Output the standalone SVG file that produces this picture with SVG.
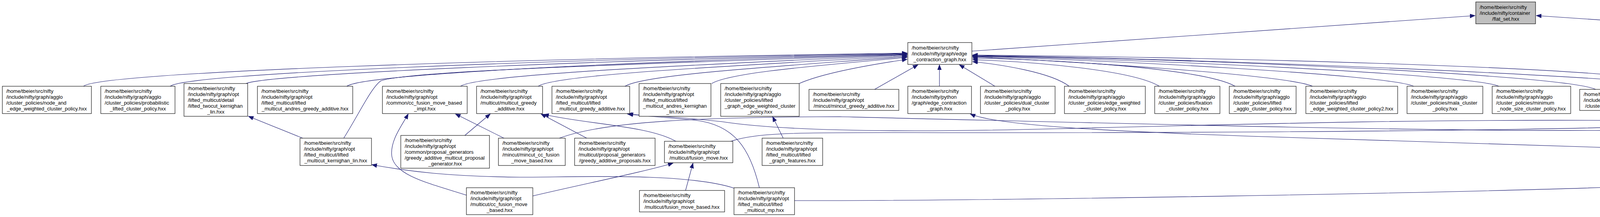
<svg xmlns="http://www.w3.org/2000/svg" width="6395" height="556" viewBox="0 0 6395 556">
<style>
.n rect{fill:#fff;stroke:#000;stroke-width:1.1}
.n.r rect{stroke:#ff0000}
.n.g rect{fill:#bfbfbf}
text{font-family:"Liberation Sans",Arial,Helvetica,sans-serif;font-size:13px;fill:#000}
.c{text-anchor:middle}
#edges path{fill:none;stroke:#191970;stroke-width:1.1;marker-end:url(#a)}
</style>
<defs>
<marker id="a" markerUnits="userSpaceOnUse" markerWidth="14" markerHeight="12" refX="13" refY="5.5" orient="auto">
<path d="M0,0.5 L13,5.5 L0,10.5 z" fill="#191970" stroke="#191970" stroke-width="1"/>
</marker>
</defs>
<rect x="0" y="0" width="6395" height="556" fill="#fff"/>
<g id="edges">
<path d="M2488,131 L3776,40"/>
<path d="M5207,126 L3933,40"/>
<path d="M214,221 C250,185 1300,150 2322,136"/>
<path d="M436,221 C470,188 1400,152 2322,137"/>
<path d="M630,214 C680,190 1500,155 2322,138"/>
<path d="M888,221 C930,190 1600,158 2322,139"/>
<path d="M880,354 C920,290 950,225 975,207 C1050,180 1700,162 2322,140"/>
<path d="M1179,221 C1220,190 1800,165 2322,141"/>
<path d="M1378,221 C1420,190 1900,168 2322,143"/>
<path d="M1600,221 C1650,190 2000,170 2322,145"/>
<path d="M1822,214 C1870,185 2100,168 2322,147"/>
<path d="M2046,214 C2100,190 2200,170 2322,152"/>
<path d="M2239,229 L2350,166"/>
<path d="M2405,221 L2405,166"/>
<path d="M2547,221 L2456,166"/>
<path d="M2737,221 C2690,185 2560,165 2490,158"/>
<path d="M2968,221 C2900,180 2650,158 2490,153"/>
<path d="M3162,221 C3080,175 2700,152 2490,149"/>
<path d="M3360,221 C3290,190 2700,155 2490,146"/>
<path d="M3619,221 C3550,190 2800,152 2490,145"/>
<path d="M3837,221 C3770,190 2900,150 2490,144"/>
<path d="M4085,229 C4000,190 3000,148 2490,143"/>
<path d="M4354,229 C4300,200 3100,150 2490,142"/>
<path d="M4424,481 C4380,420 4300,240 4260,212 C4150,170 3000,145 2490,141"/>
<path d="M4458,229 C4540,170 5000,150 5205,140"/>
<path d="M4679,221 C4760,175 5050,152 5205,143"/>
<path d="M4900,221 C4980,180 5100,160 5205,147"/>
<path d="M1871,362 C1950,335 2100,340 2500,340 C3500,340 4450,330 4690,300 C4760,260 4760,170 5205,145"/>
<path d="M1432,354 C1550,310 1800,300 2150,299 C3000,320 3800,340 4200,333 C4350,328 4450,310 4512,292"/>
<path d="M4621,354 C4450,315 4300,309 4200,309 C3700,305 3300,315 2700,330 C2300,340 2000,335 1850,312 C1750,300 1650,296 1606,292"/>
<path d="M4396,387 C4200,380 3800,370 3200,349 C2800,335 2550,320 2484,292"/>
<path d="M2034,514 C2500,515 3800,495 4300,473 C4700,450 4790,420 4813,380 C4840,330 4880,310 4960,310 C5100,315 5180,300 5222,292"/>
<path d="M1944,481 C1920,380 1880,320 1780,308 C1700,300 1640,297 1608,292"/>
<path d="M1879,482 C1750,440 1450,455 1331,454 C1150,452 1050,440 952,422"/>
<path d="M1194,500 C1100,470 1010,450 1003,400 C998,360 1030,320 1045,292"/>
<path d="M1290,354 L1166,292"/>
<path d="M1190,347 L1255,292"/>
<path d="M1502,354 L1385,292"/>
<path d="M1730,362 C1660,322 1500,318 1392,293"/>
<path d="M1364,502 C1500,470 1650,440 1723,418"/>
<path d="M1755,488 L1774,418"/>
<path d="M2005,354 L1978,299"/>
<path d="M775,354 L636,298"/>
<path d="M5100,229 L5233,166"/>
<path d="M5019,354 C5100,320 5170,300 5187,270 C5210,230 5230,190 5245,166"/>
<path d="M4775,354 C4880,300 4990,340 5090,319 C5180,290 5230,200 5259,166"/>
<path d="M4775,354 C4850,310 4950,305 5050,305 C5150,305 5195,300 5220,292"/>
<path d="M5187,354 L5257,292"/>
<path d="M5350,362 L5323,292"/>
<path d="M5530,362 L5386,292"/>
<path d="M5303,221 L5303,166"/>
<path d="M5379,362 C5405,300 5405,220 5358,166"/>
<path d="M5561,362 C5500,250 5440,210 5379,166"/>
<path d="M5537,229 L5388,166"/>
<path d="M5818,229 C5700,190 5500,170 5404,150"/>
<path d="M5958,376 C5850,350 5760,310 5745,250 C5720,180 5550,160 5404,147"/>
<path d="M6049,221 C5950,170 5700,160 5404,143"/>
<path d="M6235,221 C6100,170 5700,148 5404,140"/>
<path d="M6053,362 L6091,292"/>
<path d="M6252,362 L6284,292"/>
<path d="M6284,488 C6330,440 6370,380 6333,292"/>
<path d="M6168,488 L6077,418"/>
<path d="M4525,481 L4623,425"/>
<path d="M4571,355 L4744,292"/>
</g>

<g id="FS" class="n g"><rect x="3778" y="5" width="153" height="56"/><text x="3788" y="22.5">/home/tbeier/src/nifty</text><text x="3788" y="37.5">/include/nifty/container</text><text class="c" x="3854.5" y="52.5">/flat_set.hxx</text></g>
<g id="E0" class="n"><rect x="2324" y="109" width="164" height="56"/><text x="2334" y="126.5">/home/tbeier/src/nifty</text><text x="2334" y="141.5">/include/nifty/graph/edge</text><text class="c" x="2406" y="156.5">_contraction_graph.hxx</text></g>
<g id="U" class="n"><rect x="5207" y="109" width="195" height="56"/><text x="5217" y="126.5">/home/tbeier/src/nifty</text><text x="5217" y="141.5">/include/nifty/graph/undirected</text><text class="c" x="5304.5" y="156.5">_list_graph.hxx</text></g>

<g id="A1" class="n"><rect x="6" y="221" width="228" height="70"/><text x="16" y="238">/home/tbeier/src/nifty</text><text x="16" y="253">/include/nifty/graph/agglo</text><text x="16" y="268">/cluster_policies/node_and</text><text class="c" x="120" y="283">_edge_weighted_cluster_policy.hxx</text></g>
<g id="A2" class="n"><rect x="258" y="221" width="190" height="70"/><text x="268" y="238">/home/tbeier/src/nifty</text><text x="268" y="253">/include/nifty/graph/agglo</text><text x="268" y="268">/cluster_policies/probabilistic</text><text class="c" x="353" y="283">_lifted_cluster_policy.hxx</text></g>
<g id="A3" class="n"><rect x="471" y="214" width="163" height="84"/><text x="481" y="230.5">/home/tbeier/src/nifty</text><text x="481" y="245.5">/include/nifty/graph/opt</text><text x="481" y="260.5">/lifted_multicut/detail</text><text x="481" y="275.5">/lifted_twocut_kernighan</text><text class="c" x="552.5" y="290.5">_lin.hxx</text></g>
<g id="A4" class="n"><rect x="659" y="221" width="244" height="70"/><text x="669" y="238">/home/tbeier/src/nifty</text><text x="669" y="253">/include/nifty/graph/opt</text><text x="669" y="268">/lifted_multicut/lifted</text><text class="c" x="781" y="283">_multicut_andres_greedy_additive.hxx</text></g>
<g id="A5" class="n"><rect x="979" y="221" width="217" height="70"/><text x="989" y="238">/home/tbeier/src/nifty</text><text x="989" y="253">/include/nifty/graph/opt</text><text x="989" y="268">/common/cc_fusion_move_based</text><text class="c" x="1087.5" y="283">_impl.hxx</text></g>
<g id="B1" class="n"><rect x="1220" y="221" width="169" height="70"/><text x="1230" y="238">/home/tbeier/src/nifty</text><text x="1230" y="253">/include/nifty/graph/opt</text><text x="1230" y="268">/multicut/multicut_greedy</text><text class="c" x="1304.5" y="283">_additive.hxx</text></g>
<g id="B2" class="n"><rect x="1413" y="221" width="199" height="70"/><text x="1423" y="238">/home/tbeier/src/nifty</text><text x="1423" y="253">/include/nifty/graph/opt</text><text x="1423" y="268">/lifted_multicut/lifted</text><text class="c" x="1512.5" y="283">_multicut_greedy_additive.hxx</text></g>
<g id="B3" class="n"><rect x="1636" y="214" width="184" height="84"/><text x="1646" y="230.5">/home/tbeier/src/nifty</text><text x="1646" y="245.5">/include/nifty/graph/opt</text><text x="1646" y="260.5">/lifted_multicut/lifted</text><text x="1646" y="275.5">_multicut_andres_kernighan</text><text class="c" x="1728" y="290.5">_lin.hxx</text></g>
<g id="B4" class="n"><rect x="1845" y="214" width="201" height="84"/><text x="1855" y="230.5">/home/tbeier/src/nifty</text><text x="1855" y="245.5">/include/nifty/graph/agglo</text><text x="1855" y="260.5">/cluster_policies/lifted</text><text x="1855" y="275.5">_graph_edge_weighted_cluster</text><text class="c" x="1945.5" y="290.5">_policy.hxx</text></g>
<g id="B5" class="n"><rect x="2071" y="229" width="230" height="54"/><text x="2081" y="245.5">/home/tbeier/src/nifty</text><text x="2081" y="260.5">/include/nifty/graph/opt</text><text class="c" x="2186" y="275.5">/mincut/mincut_greedy_additive.hxx</text></g>
<g id="E1" class="n"><rect x="2324" y="221" width="163" height="70"/><text x="2334" y="238">/home/tbeier/src/nifty</text><text x="2334" y="253">/include/nifty/python</text><text x="2334" y="268">/graph/edge_contraction</text><text class="c" x="2405.5" y="283">_graph.hxx</text></g>
<g id="E2" class="n"><rect x="2510" y="221" width="191" height="70"/><text x="2520" y="238">/home/tbeier/src/nifty</text><text x="2520" y="253">/include/nifty/graph/agglo</text><text x="2520" y="268">/cluster_policies/dual_cluster</text><text class="c" x="2605.5" y="283">_policy.hxx</text></g>
<g id="E3" class="n"><rect x="2725" y="221" width="207" height="70"/><text x="2735" y="238">/home/tbeier/src/nifty</text><text x="2735" y="253">/include/nifty/graph/agglo</text><text x="2735" y="268">/cluster_policies/edge_weighted</text><text class="c" x="2828.5" y="283">_cluster_policy.hxx</text></g>
<g id="E4" class="n"><rect x="2956" y="221" width="167" height="70"/><text x="2966" y="238">/home/tbeier/src/nifty</text><text x="2966" y="253">/include/nifty/graph/agglo</text><text x="2966" y="268">/cluster_policies/fixation</text><text class="c" x="3039.5" y="283">_cluster_policy.hxx</text></g>
<g id="E5" class="n"><rect x="3147" y="221" width="171" height="70"/><text x="3157" y="238">/home/tbeier/src/nifty</text><text x="3157" y="253">/include/nifty/graph/agglo</text><text x="3157" y="268">/cluster_policies/lifted</text><text class="c" x="3232.5" y="283">_agglo_cluster_policy.hxx</text></g>
<g id="F1" class="n"><rect x="3343" y="221" width="235" height="70"/><text x="3353" y="238">/home/tbeier/src/nifty</text><text x="3353" y="253">/include/nifty/graph/agglo</text><text x="3353" y="268">/cluster_policies/lifted</text><text class="c" x="3460.5" y="283">_edge_weighted_cluster_policy2.hxx</text></g>
<g id="F2" class="n"><rect x="3602" y="221" width="194" height="70"/><text x="3612" y="238">/home/tbeier/src/nifty</text><text x="3612" y="253">/include/nifty/graph/agglo</text><text x="3612" y="268">/cluster_policies/mala_cluster</text><text class="c" x="3699" y="283">_policy.hxx</text></g>
<g id="F3" class="n"><rect x="3820" y="221" width="201" height="70"/><text x="3830" y="238">/home/tbeier/src/nifty</text><text x="3830" y="253">/include/nifty/graph/agglo</text><text x="3830" y="268">/cluster_policies/minimum</text><text class="c" x="3920.5" y="283">_node_size_cluster_policy.hxx</text></g>
<g id="F4" class="n"><rect x="4044" y="229" width="211" height="54"/><text x="4054" y="245.5">/home/tbeier/src/nifty</text><text x="4054" y="260.5">/include/nifty/graph/agglo</text><text class="c" x="4149.5" y="275.5">/cluster_policies/new_policy.hxx</text></g>
<g id="G1" class="n"><rect x="4330" y="229" width="154" height="54"/><text x="4340" y="245.5">/home/tbeier/src/nifty</text><text x="4340" y="260.5">/include/nifty/graph/opt</text><text class="c" x="4407" y="275.5">/multicut/cgc.hxx</text></g>
<g id="G2" class="n"><rect x="4509" y="221" width="170" height="70"/><text x="4519" y="238">/home/tbeier/src/nifty</text><text x="4519" y="253">/include/nifty/graph/opt</text><text x="4519" y="268">/mincut/mincut_cc_fusion</text><text class="c" x="4594" y="283">_move.hxx</text></g>
<g id="G3" class="n r"><rect x="4753" y="221" width="147" height="70"/><text x="4763" y="238">/home/tbeier/src/nifty</text><text x="4763" y="253">/include/nifty/python</text><text x="4763" y="268">/graph/undirected_list</text><text class="c" x="4826.5" y="283">_graph.hxx</text></g>
<g id="G4" class="n"><rect x="4925" y="229" width="225" height="54"/><text x="4935" y="245.5">/home/tbeier/src/nifty</text><text x="4935" y="260.5">/include/nifty/graph/opt</text><text class="c" x="5037.5" y="275.5">/multicut/multicut_decomposer.hxx</text></g>
<g id="G5" class="n"><rect x="5226" y="221" width="157" height="70"/><text x="5236" y="238">/home/tbeier/src/nifty</text><text x="5236" y="253">/include/nifty/graph/opt</text><text x="5236" y="268">/lifted_multicut/lifted</text><text class="c" x="5304.5" y="283">_multicut_objective.hxx</text></g>
<g id="J1" class="n r"><rect x="5510" y="229" width="196" height="54"/><text x="5520" y="245.5">/home/tbeier/src/nifty</text><text x="5520" y="260.5">/include/nifty/graph/undirected</text><text class="c" x="5608" y="275.5">_long_range_grid_graph.hxx</text></g>
<g id="J2" class="n"><rect x="5783" y="229" width="230" height="54"/><text x="5793" y="245.5">/home/tbeier/src/nifty</text><text x="5793" y="260.5">/include/nifty/graph/opt</text><text class="c" x="5898" y="275.5">/common/cc_fusion_move_impl.hxx</text></g>
<g id="J3" class="n"><rect x="6037" y="221" width="163" height="70"/><text x="6047" y="238">/home/tbeier/src/nifty</text><text x="6047" y="253">/include/nifty/graph/rag</text><text x="6047" y="268">/detail_rag/compute_grid</text><text class="c" x="6118.5" y="283">_rag.hxx</text></g>
<g id="J4" class="n"><rect x="6225" y="221" width="164" height="70"/><text x="6235" y="238">/home/tbeier/src/nifty</text><text x="6235" y="253">/include/nifty/graph/rag</text><text x="6235" y="268">/detail_rag/compute_grid</text><text class="c" x="6307" y="283">_rag_hdf5.hxx</text></g>

<g id="A6" class="n"><rect x="768" y="354" width="183" height="70"/><text x="778" y="371">/home/tbeier/src/nifty</text><text x="778" y="386">/include/nifty/graph/opt</text><text x="778" y="401">/lifted_multicut/lifted</text><text class="c" x="859.5" y="416">_multicut_kernighan_lin.hxx</text></g>
<g id="A7" class="n"><rect x="1026" y="347" width="227" height="84"/><text x="1036" y="363.5">/home/tbeier/src/nifty</text><text x="1036" y="378.5">/include/nifty/graph/opt</text><text x="1036" y="393.5">/common/proposal_generators</text><text x="1036" y="408.5">/greedy_additive_multicut_proposal</text><text class="c" x="1139.5" y="423.5">_generator.hxx</text></g>
<g id="C1" class="n"><rect x="1276" y="354" width="171" height="70"/><text x="1286" y="371">/home/tbeier/src/nifty</text><text x="1286" y="386">/include/nifty/graph/opt</text><text x="1286" y="401">/mincut/mincut_cc_fusion</text><text class="c" x="1361.5" y="416">_move_based.hxx</text></g>
<g id="C2" class="n"><rect x="1471" y="354" width="206" height="70"/><text x="1481" y="371">/home/tbeier/src/nifty</text><text x="1481" y="386">/include/nifty/graph/opt</text><text x="1481" y="401">/multicut/proposal_generators</text><text class="c" x="1574" y="416">/greedy_additive_proposals.hxx</text></g>
<g id="C3" class="n"><rect x="1701" y="362" width="175" height="55"/><text x="1711" y="379">/home/tbeier/src/nifty</text><text x="1711" y="394">/include/nifty/graph/opt</text><text class="c" x="1788.5" y="409">/multicut/fusion_move.hxx</text></g>
<g id="C4" class="n"><rect x="1951" y="354" width="155" height="70"/><text x="1961" y="371">/home/tbeier/src/nifty</text><text x="1961" y="386">/include/nifty/graph/opt</text><text x="1961" y="401">/lifted_multicut/lifted</text><text class="c" x="2028.5" y="416">_graph_features.hxx</text></g>
<g id="H1" class="n"><rect x="4396" y="354" width="174" height="70"/><text x="4406" y="371">/home/tbeier/src/nifty</text><text x="4406" y="386">/include/nifty/python</text><text x="4406" y="401">/graph/opt/common/export</text><text class="c" x="4483" y="416">_solver_factory.hxx</text></g>
<g id="H2" class="n"><rect x="4621" y="354" width="154" height="70"/><text x="4631" y="371">/home/tbeier/src/nifty</text><text x="4631" y="386">/include/nifty/graph/opt</text><text x="4631" y="401">/lifted_multicut/fusion</text><text class="c" x="4698" y="416">_move.hxx</text></g>
<g id="H3" class="n"><rect x="4869" y="354" width="156" height="70"/><text x="4879" y="371">/home/tbeier/src/nifty</text><text x="4879" y="386">/include/nifty/graph/opt</text><text x="4879" y="401">/lifted_multicut/chained</text><text class="c" x="4947" y="416">_solvers.hxx</text></g>
<g id="H4" class="n r"><rect x="5050" y="354" width="190" height="70"/><text x="5060" y="371">/home/tbeier/src/nifty</text><text x="5060" y="386">/include/nifty/python</text><text x="5060" y="401">/graph/opt/lifted_multicut</text><text class="c" x="5145" y="416">/lifted_multicut_objective.hxx</text></g>
<g id="H5" class="n"><rect x="5265" y="362" width="196" height="55"/><text x="5275" y="379">/home/tbeier/src/nifty</text><text x="5275" y="394">/include/nifty/graph/opt</text><text class="c" x="5363" y="409">/lifted_multicut/pixel_wise.hxx</text></g>
<g id="K1" class="n"><rect x="5486" y="362" width="210" height="55"/><text x="5496" y="379">/home/tbeier/src/nifty</text><text x="5496" y="394">/include/nifty/graph/opt</text><text class="c" x="5591" y="409">/lifted_multicut/pixel_wise_q.hxx</text></g>
<g id="K2" class="n r"><rect x="5958" y="362" width="154" height="55"/><text x="5968" y="379">/home/tbeier/src/nifty</text><text x="5968" y="394">/include/nifty/graph/rag</text><text class="c" x="6035" y="409">/grid_rag.hxx</text></g>
<g id="K3" class="n"><rect x="6136" y="362" width="203" height="55"/><text x="6146" y="379">/home/tbeier/src/nifty</text><text x="6146" y="394">/include/nifty/graph/rag</text><text class="c" x="6237.5" y="409">/grid_rag_stacked_2d_hdf5.hxx</text></g>

<g id="D1" class="n"><rect x="1194" y="481" width="170" height="69"/><text x="1204" y="497.5">/home/tbeier/src/nifty</text><text x="1204" y="512.5">/include/nifty/graph/opt</text><text x="1204" y="527.5">/multicut/cc_fusion_move</text><text class="c" x="1279" y="542.5">_based.hxx</text></g>
<g id="D2" class="n"><rect x="1637" y="488" width="218" height="55"/><text x="1647" y="505">/home/tbeier/src/nifty</text><text x="1647" y="520">/include/nifty/graph/opt</text><text class="c" x="1746" y="535">/multicut/fusion_move_based.hxx</text></g>
<g id="D3" class="n"><rect x="1879" y="481" width="155" height="69"/><text x="1889" y="497.5">/home/tbeier/src/nifty</text><text x="1889" y="512.5">/include/nifty/graph/opt</text><text x="1889" y="527.5">/lifted_multicut/lifted</text><text class="c" x="1956.5" y="542.5">_multicut_mp.hxx</text></g>
<g id="I1" class="n"><rect x="4389" y="481" width="154" height="69"/><text x="4399" y="497.5">/home/tbeier/src/nifty</text><text x="4399" y="512.5">/include/nifty/graph/opt</text><text x="4399" y="527.5">/lifted_multicut/fusion</text><text class="c" x="4466" y="542.5">_move_based.hxx</text></g>
<g id="L1" class="n"><rect x="6128" y="488" width="155" height="55"/><text x="6138" y="505">/home/tbeier/src/nifty</text><text x="6138" y="520">/include/nifty/graph/rag</text><text class="c" x="6205.5" y="535">/grid_rag_hdf5.hxx</text></g>
</svg>
